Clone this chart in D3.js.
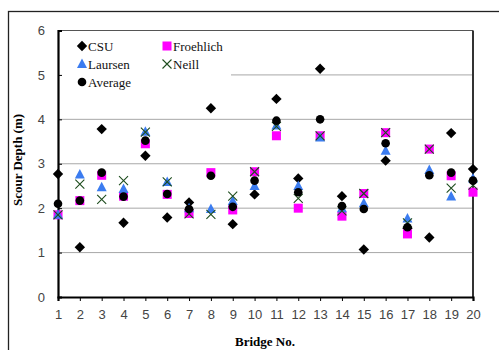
<!DOCTYPE html>
<html><head><meta charset="utf-8">
<script src="https://cdn.jsdelivr.net/npm/d3@7"></script>
<style>body{margin:0;background:#fff}svg{display:block}</style>
</head><body>
<svg id="c" width="499" height="350"></svg>
<script>
const bridges = d3.range(1, 21);
const yTicks = [0, 1, 2, 3, 4, 5, 6];
const csu =       [2.77,1.12,3.78,1.67,3.18,1.79,2.13,4.25,1.64,2.31,4.46,2.67,5.14,2.27,1.07,3.07,1.55,1.34,3.69,2.88];
const froehlich = [1.85,2.17,2.74,2.27,3.45,2.31,1.88,2.80,1.96,2.82,3.63,2.00,3.63,1.82,2.33,3.70,1.42,3.33,2.73,2.36];
const laursen =   [1.85,2.76,2.47,2.43,3.72,2.59,2.00,1.98,2.16,2.50,3.86,2.50,3.59,2.00,2.11,3.29,1.77,2.86,2.26,2.67];
const neill =     [1.85,2.54,2.20,2.62,3.71,2.59,1.87,1.86,2.27,2.82,3.84,2.22,3.63,1.94,2.33,3.70,1.67,3.33,2.45,2.52];
const average =   [2.10,2.17,2.80,2.26,3.52,2.32,1.98,2.73,2.03,2.62,3.97,2.36,4.00,2.05,1.98,3.46,1.57,2.74,2.80,2.62];

const series = [
  {name:"CSU", values:csu, type:"diamond"},
  {name:"Froehlich", values:froehlich, type:"square"},
  {name:"Laursen", values:laursen, type:"triangle"},
  {name:"Neill", values:neill, type:"x"},
  {name:"Average", values:average, type:"circle"}
];

const svg = d3.select("#c");
const L = 58, R = 473, T = 30.5, B = 297;
const x = d3.scaleLinear().domain([1, 20]).range([L, R]);
const y = d3.scaleLinear().domain([0, 6]).range([B, T]);

// outer frame
svg.append("rect").attr("x", 8.5).attr("y", 11.5).attr("width", 520).attr("height", 360)
  .attr("fill", "none").attr("stroke", "#222").attr("stroke-width", 1.3);

// gridlines
svg.append("g").selectAll("line").data(yTicks.filter(d => d > 0 && d < 6)).join("line")
  .attr("x1", L).attr("x2", R).attr("y1", d => y(d)).attr("y2", d => y(d))
  .attr("stroke", "#a8a8a8").attr("stroke-width", 1);

// legend background (covers gridline)
svg.append("rect").attr("x", L + 1).attr("y", T + 1).attr("width", 231 - L - 1).attr("height", 62).attr("fill", "#fff");

// plot border top/right
svg.append("line").attr("x1", L).attr("x2", R).attr("y1", T).attr("y2", T).attr("stroke", "#555").attr("stroke-width", 1);
svg.append("line").attr("x1", R).attr("x2", R).attr("y1", T).attr("y2", B).attr("stroke", "#333").attr("stroke-width", 2);

// axes
const xAxis = d3.axisBottom(x).tickValues(bridges).tickSize(4).tickPadding(9).tickFormat(d3.format("d"));
const gx = svg.append("g").attr("transform", `translate(0,${B})`).call(xAxis);
gx.select(".domain").attr("stroke", "#000").attr("stroke-width", 2.2);
gx.selectAll(".tick line").attr("stroke", "#000");
gx.selectAll("text").attr("font-family", "Liberation Sans, Arial, sans-serif").attr("font-size", 13).attr("fill", "#444");

const yAxis = d3.axisLeft(y).tickValues(yTicks).tickSize(-4).tickPadding(13).tickFormat(d3.format("d"));
const gy = svg.append("g").attr("transform", `translate(${L},0)`).call(yAxis);
gy.select(".domain").attr("stroke", "#000").attr("stroke-width", 2.2);
gy.selectAll(".tick line").attr("stroke", "#000");
gy.selectAll("text").attr("font-family", "Liberation Sans, Arial, sans-serif").attr("font-size", 13).attr("fill", "#444");

// markers
function drawMarker(g, type, cx, cy) {
  if (type === "diamond") {
    const r = 5.2;
    g.append("path").attr("d", `M${cx},${cy-r}L${cx+r},${cy}L${cx},${cy+r}L${cx-r},${cy}Z`).attr("fill", "#000");
  } else if (type === "square") {
    g.append("rect").attr("x", cx - 4.5).attr("y", cy - 4.5).attr("width", 9).attr("height", 9).attr("fill", "#ff00ff");
  } else if (type === "triangle") {
    g.append("path").attr("d", `M${cx},${cy-5.5}L${cx+5},${cy+4}L${cx-5},${cy+4}Z`).attr("fill", "#3b7cf0");
  } else if (type === "x") {
    g.append("path").attr("d", `M${cx-4.5},${cy-4.5}L${cx+4.5},${cy+4.5}M${cx+4.5},${cy-4.5}L${cx-4.5},${cy+4.5}`)
      .attr("stroke", "#1e4d1e").attr("stroke-width", 1.1).attr("fill", "none");
  } else if (type === "circle") {
    g.append("circle").attr("cx", cx).attr("cy", cy).attr("r", 4.3).attr("fill", "#000");
  }
}

series.forEach(s => {
  const g = svg.append("g").attr("class", "series");
  s.values.forEach((v, i) => drawMarker(g, s.type, x(bridges[i]), y(v)));
});

// legend
const legendPos = [[82, 46], [167, 46], [82, 64], [167, 64], [82, 82]];
const lg = svg.append("g");
series.forEach((s, i) => {
  const [lx, ly] = legendPos[i];
  drawMarker(lg, s.type, lx, ly);
  lg.append("text").attr("x", lx + 6).attr("y", ly + 4.5).text(s.name)
    .attr("font-family", "Liberation Serif, Times New Roman, serif").attr("font-size", 13).attr("fill", "#111");
});

// axis titles
svg.append("text").attr("x", 265).attr("y", 346).attr("text-anchor", "middle")
  .attr("font-family", "Liberation Serif, Times New Roman, serif").attr("font-weight", "bold").attr("font-size", 13)
  .text("Bridge No.");
svg.append("text").attr("transform", "translate(22,160) rotate(-90)").attr("text-anchor", "middle")
  .attr("font-family", "Liberation Serif, Times New Roman, serif").attr("font-weight", "bold").attr("font-size", 13)
  .text("Scour Depth (m)");
</script>
</body></html>
